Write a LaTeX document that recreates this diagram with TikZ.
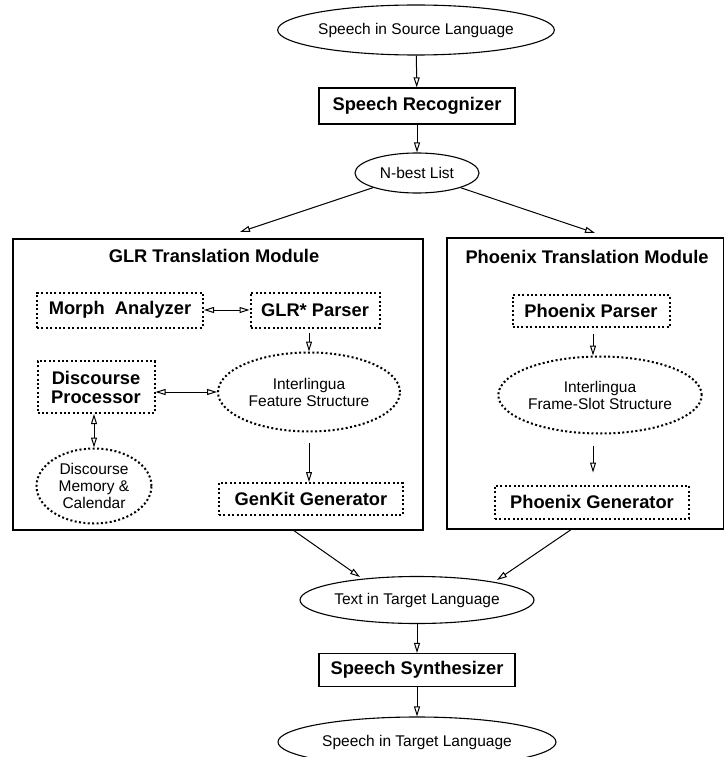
\documentclass[tikz,border=0pt]{standalone}
\usepackage{fontspec}
\setmainfont{Liberation Sans}
\usetikzlibrary{arrows.meta,shapes.geometric,calc}
\tikzset{
  reg/.style={font=\fontsize{15.5}{17}\selectfont, align=center, inner sep=0pt},
  bld/.style={font=\fontsize{18.3}{19}\selectfont\bfseries, align=center, inner sep=0pt},
  solidbox/.style={draw, line width=1.1pt, rectangle, bld},
  dotbox/.style={draw, line width=2pt, dash pattern=on 2pt off 2.4pt, rectangle, bld},
  solidell/.style={draw, line width=1.1pt, ellipse, reg},
  dotell/.style={draw, line width=2pt, dash pattern=on 2pt off 2.4pt, ellipse, reg},
  modbox/.style={draw, line width=2.4pt, rectangle, inner sep=0pt},
  arr/.style={line width=1pt, -{Triangle[open,length=10pt,width=6pt]}},
  darr/.style={line width=1pt, {Triangle[open,length=10pt,width=6pt]}-{Triangle[open,length=10pt,width=6pt]}},
}
\begin{document}
\begin{tikzpicture}[x=1pt,y=-1pt]
\useasboundingbox (0,0) rectangle (723,757);
% main flow
\node[solidell, minimum width=264pt, minimum height=50pt] (src) at (416,30) {Speech in Source Language};
\node[solidbox, minimum width=196pt, minimum height=36pt] (rec) at (417,106) {Speech Recognizer};
\node[solidell, minimum width=124pt, minimum height=40pt] (nb) at (417,173) {N-best List};
% modules
\node[modbox, minimum width=410pt, minimum height=291pt] (glr) at (218,384.5) {};
\node[modbox, minimum width=277pt, minimum height=291pt] (phx) at (585.5,383.5) {};
\node[bld] (glrt) at (214,256) {GLR Translation Module};
\node[bld] (phxt) at (587,257) {Phoenix Translation Module};
% GLR module contents
\node[dotbox, minimum width=166pt, minimum height=35pt] (ma) at (120,310) {Morph~~Analyzer};
\node[dotbox, minimum width=129pt, minimum height=35pt] (gp) at (315,310) {GLR* Parser};
\node[dotbox, minimum width=117pt, minimum height=52pt] (dp) at (96,387) {Discourse\\Processor};
\node[dotell, minimum width=182pt, minimum height=79pt] (ifs) at (309,392) {Interlingua\\Feature Structure};
\node[dotell, minimum width=115pt, minimum height=75pt] (dm) at (94,486) {Discourse\\Memory \&\\Calendar};
\node[dotbox, minimum width=184pt, minimum height=32pt] (gk) at (311,499) {GenKit Generator};
% Phoenix module contents
\node[dotbox, minimum width=157pt, minimum height=32pt] (pp) at (591,311) {Phoenix Parser};
\node[dotell, minimum width=184pt, minimum height=77pt] (fss) at (600,395) {Interlingua\\Frame-Slot Structure};
\node[dotbox, minimum width=194pt, minimum height=33pt] (pg) at (592,502) {Phoenix Generator};
% output flow
\node[solidell, minimum width=223pt, minimum height=47pt] (tt) at (417,600) {Text in Target Language};
\node[solidbox, minimum width=196pt, minimum height=33pt] (syn) at (417,670) {Speech Synthesizer};
\node[solidell, minimum width=278pt, minimum height=50pt] (st) at (417,742) {Speech in Target Language};
% coordinates for free ends
\coordinate (glrin) at (240,232);
\coordinate (phxin) at (595,233);
\coordinate (glrout) at (293,530);
\coordinate (phxout) at (572,529);
\coordinate (ttl) at (360,577);
\coordinate (ttr) at (497,580);
\coordinate (pcol) at (593,0);
% connectors
\draw[arr] (src) -- (rec);
\draw[arr] (rec) -- (nb);
\draw[arr] (nb) -- (glrin);
\draw[arr] (nb) -- (phxin);
\draw[darr] (ma) -- (gp);
\draw[arr, shorten <=4pt] (gp.south -| ifs) -- (ifs.north);
\draw[darr] (dp.east |- ifs) -- (ifs.west);
\draw[darr] (dp.south -| dm) -- (dm.north);
\draw[arr, shorten <=10pt] (ifs.south) -- (gk.north -| ifs);
\draw[arr, shorten <=6pt] (pp.south -| pcol) -- (fss.north -| pcol);
\draw[arr, shorten <=11pt, shorten >=12pt] (fss.south -| pcol) -- (pg.north -| pcol);
\draw[arr] (glrout) -- (ttl);
\draw[arr] (phxout) -- (ttr);
\draw[arr] (tt) -- (syn);
\draw[arr] (syn) -- (st);
\end{tikzpicture}
\end{document}
